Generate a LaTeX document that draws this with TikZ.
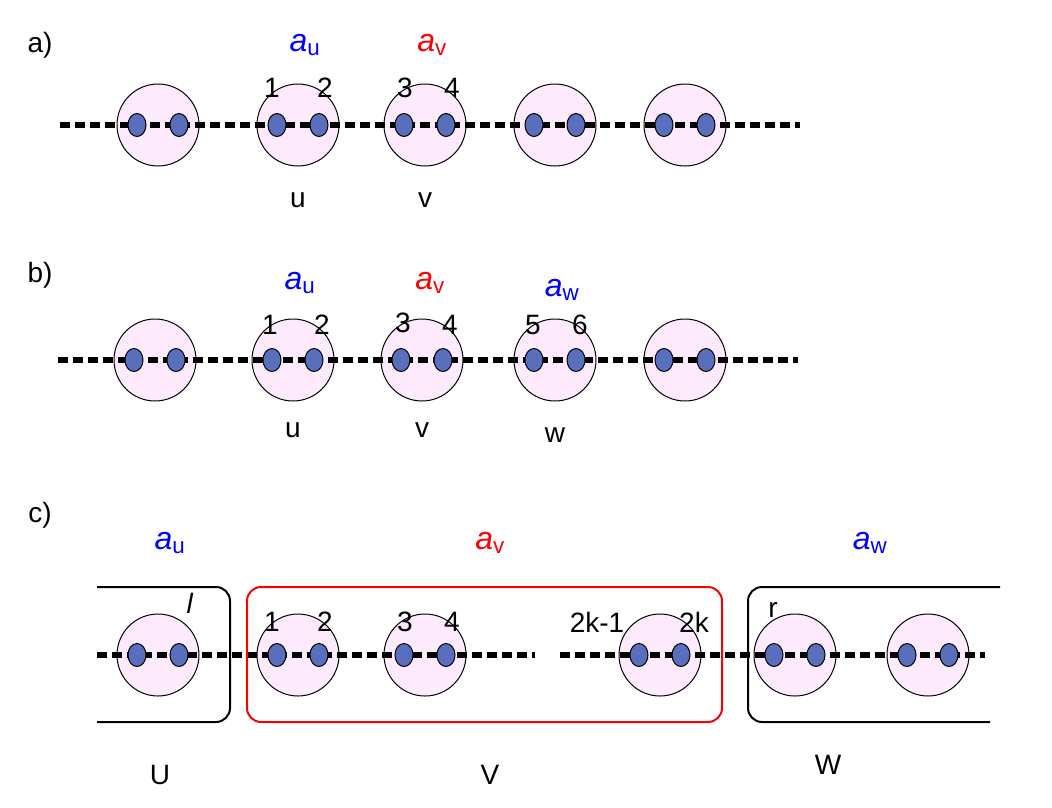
\documentclass[tikz,border=0pt]{standalone}
\usepackage{fontspec}
\setmainfont{Liberation Sans}
\usetikzlibrary{positioning,shapes.geometric}
\definecolor{cellfill}{RGB}{253,234,253}
\definecolor{dotfill}{RGB}{90,110,190}
\newcommand{\avar}[1]{\textit{a}\textsubscript{#1}}
\begin{document}
\begin{tikzpicture}[
				x = 1pt, y = -1pt,
				every node/.style = {font = \fontsize{28}{32}\selectfont},
				cell/.style = {circle, draw = black, line width = 1pt, fill = cellfill, minimum size = 82pt, inner sep = 0pt},
				spot/.style = {ellipse, draw = black, line width = 1pt, fill = dotfill, minimum width = 18pt, minimum height = 23pt, inner sep = 0pt},
				chain/.style = {line width = 6pt, dash pattern = on 10pt off 5pt},
				frame/.style = {line width = 2pt, rounded corners = 14pt},
				tag/.style = {font = \fontsize{32}{36}\selectfont}
			]
			\useasboundingbox (0,0) rectangle (1052,807);
			
			% row a
			\node at (40,45) {a)};
			\foreach \n/\x in {a1/158,a2/298,a3/425,a4/555,a5/685} {
				\node[cell] (\n) at (\x,125) {};
			}
			\coordinate (as) at (60,125);
			\coordinate (ae) at (800,125);
			\draw[chain] (as) -- (ae);
			\foreach \n in {a1,a2,a3,a4,a5} {
				\node[spot] (\n l) at ([xshift=-21pt]\n) {};
				\node[spot] (\n r) at ([xshift=21pt]\n) {};
			}
			\node[tag, blue] at (305,45) {\avar{u}};
			\node[tag, red] at (432,45) {\avar{v}};
			\node at (272,88) {1};
			\node at (325,88) {2};
			\node at (405,88) {3};
			\node at (452,88) {4};
			\node at (298,200) {u};
			\node at (425,200) {v};
			
			% row b
			\node at (40,275) {b)};
			\foreach \n/\x in {b1/155,b2/293,b3/422,b4/555,b5/685} {
				\node[cell] (\n) at (\x,360) {};
			}
			\coordinate (bs) at (58,360);
			\coordinate (be) at (798,360);
			\draw[chain] (bs) -- (be);
			\foreach \n in {b1,b2,b3,b4,b5} {
				\node[spot] (\n l) at ([xshift=-21pt]\n) {};
				\node[spot] (\n r) at ([xshift=21pt]\n) {};
			}
			\node[tag, blue] at (300,283) {\avar{u}};
			\node[tag, red] at (430,283) {\avar{v}};
			\node[tag, blue] at (562,290) {\avar{w}};
			\node at (270,325) {1};
			\node at (322,325) {2};
			\node at (403,323) {3};
			\node at (450,325) {4};
			\node at (533,325) {5};
			\node at (580,325) {6};
			\node at (293,430) {u};
			\node at (422,430) {v};
			\node at (555,435) {w};
			
			% row c
			\node at (40,515) {c)};
			\foreach \n/\x in {c1/158,c2/298,c3/425,c4/660,c5/795,c6/928} {
				\node[cell] (\n) at (\x,655) {};
			}
			\coordinate (cs) at (97,655);
			\coordinate (cm) at (535,655);
			\coordinate (cn) at (560,655);
			\coordinate (ce) at (985,655);
			\draw[chain] (cs) -- (cm);
			\draw[chain] (cn) -- (ce);
			\foreach \n in {c1,c2,c3,c4,c5,c6} {
				\node[spot] (\n l) at ([xshift=-21pt]\n) {};
				\node[spot] (\n r) at ([xshift=21pt]\n) {};
			}
			\draw[frame] (97,587) -- (230,587) -- (230,722) -- (97,722);
			\draw[frame, red] (247,587) rectangle (722,722);
			\draw[frame] (1000,587) -- (748,587) -- (748,722) -- (990,722);
			\node[tag, blue] at (170,543) {\avar{u}};
			\node[tag, red] at (490,543) {\avar{v}};
			\node[tag, blue] at (870,543) {\avar{w}};
			\node at (190,603) {\textit{l}};
			\node at (773,610) {r};
			\node at (272,622) {1};
			\node at (325,622) {2};
			\node at (405,622) {3};
			\node at (452,622) {4};
			\node at (597,622) {2k-1};
			\node at (694,622) {2k};
			\node at (160,775) {U};
			\node at (490,775) {V};
			\node at (828,765) {W};
		\end{tikzpicture}
\end{document}
